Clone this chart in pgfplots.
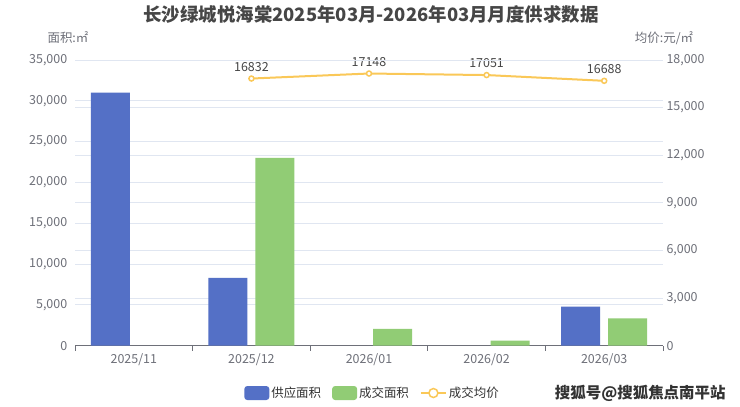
\documentclass[border=0pt]{standalone}
\usepackage{fontspec}
\setmainfont{Noto Sans CJK SC}
\usepackage{pgfplots}
\pgfplotsset{compat=1.18}
\definecolor{cblue}{HTML}{5470C6}
\definecolor{cgreen}{HTML}{91CC75}
\definecolor{cyellow}{HTML}{FAC858}
\definecolor{axgray}{HTML}{6E7079}
\definecolor{gridc}{HTML}{E0E6F1}
\definecolor{titlec}{HTML}{464646}
\definecolor{legtext}{HTML}{333333}
\begin{document}
\begin{tikzpicture}[x=1bp,y=1bp]
\path[use as bounding box, fill=white] (0,0) rectangle (740,406);
% right axis: price
\begin{axis}[at={(75bp,60.3bp)}, anchor=south west, scale only axis,
  width=588bp, height=285.7bp,
  xmin=-0.5, xmax=4.5, ymin=0, ymax=18000,
  axis x line=none, axis y line*=right,
  y axis line style={draw=none}, ytick style={draw=none},
  ytick={0,3000,...,18000}, scaled y ticks=false,
  ymajorgrids, major grid style={gridc, line width=0.8bp},
  /pgf/number format/assume math mode=true,
  /pgf/number format/1000 sep={,},
  yticklabel style={font=\fontsize{12.5}{14}\selectfont, text=axgray},
  clip=false]
\addplot[cyellow, line width=2bp, mark=*, mark size=2.5bp,
  mark options={fill=white, draw=cyellow, line width=1.5bp},
  nodes near coords, point meta=explicit symbolic,
  every node near coord/.append style={font=\fontsize{12.5}{14}\selectfont, text=titlec, yshift=3bp}]
  table[meta=label] {
x y label
1 16832 16832
2 17148 17148
3 17051 17051
4 16688 16688
};
\end{axis}
% left axis: areas
\begin{axis}[at={(75bp,60.3bp)}, anchor=south west, scale only axis,
  width=588bp, height=285.7bp,
  xmin=-0.5, xmax=4.5, ymin=0, ymax=35000,
  axis x line*=bottom, axis y line*=left,
  y axis line style={draw=none}, ytick style={draw=none},
  x axis line style={axgray, line width=1bp},
  xtick={0,1,2,3,4},
  xticklabels={2025/11,2025/12,2026/01,2026/02,2026/03},
  major x tick style={draw=none},
  minor xtick={-0.5,0.5,1.5,2.5,3.5,4.5},
  minor x tick style={axgray, line width=1bp},
  minor tick length=5bp, tick align=outside,
  ytick={0,5000,...,35000}, scaled y ticks=false,
  ymajorgrids, major grid style={gridc, line width=0.8bp},
  /pgf/number format/assume math mode=true,
  /pgf/number format/1000 sep={,},
  yticklabel style={font=\fontsize{12.5}{14}\selectfont, text=axgray},
  xticklabel style={font=\fontsize{12.5}{14}\selectfont, text=axgray},
  legend columns=3,
  legend style={at={(0.506,-0.1656)}, anchor=center, draw=none, fill=none,
    font=\fontsize{12.5}{14}\selectfont, text=legtext,
    /tikz/every even column/.append style={column sep=9bp}},
  clip=false]
\addplot[ybar, bar width=39bp, bar shift=-23.5bp, fill=cblue, draw=none,
  legend image code/.code={\fill[cblue, rounded corners=3bp] (0bp,-7bp) rectangle (25bp,7bp);}]
  coordinates {(0,31000) (1,8300) (4,4780)};
\addlegendentry{供应面积}
\addplot[ybar, bar width=39bp, bar shift=23.5bp, fill=cgreen, draw=none,
  legend image code/.code={\fill[cgreen, rounded corners=3bp] (0bp,-7bp) rectangle (25bp,7bp);}]
  coordinates {(1,23000) (2,2050) (3,610) (4,3360)};
\addlegendentry{成交面积}
\addlegendimage{legend image code/.code={\draw[cyellow, line width=2bp] (0bp,0bp)--(25bp,0bp); \draw[cyellow, fill=white, line width=1.5bp] (12.5bp,0bp) circle (4.5bp);}}
\addlegendentry{成交均价}
\end{axis}
\node[font=\bfseries\fontsize{18.5}{22}\selectfont, text=titlec] at (371,392) {长沙绿城悦海棠2025年03月-2026年03月月度供求数据};
\node[font=\fontsize{12.5}{14}\selectfont, text=axgray] at (68,368) {面积:㎡};
\node[font=\fontsize{12.5}{14}\selectfont, text=axgray] at (664,368) {均价:元/㎡};
\node[font=\bfseries\fontsize{15.5}{18}\selectfont, text=black!80, anchor=east] at (729,13) {搜狐号@搜狐焦点南平站};
\end{tikzpicture}
\end{document}
